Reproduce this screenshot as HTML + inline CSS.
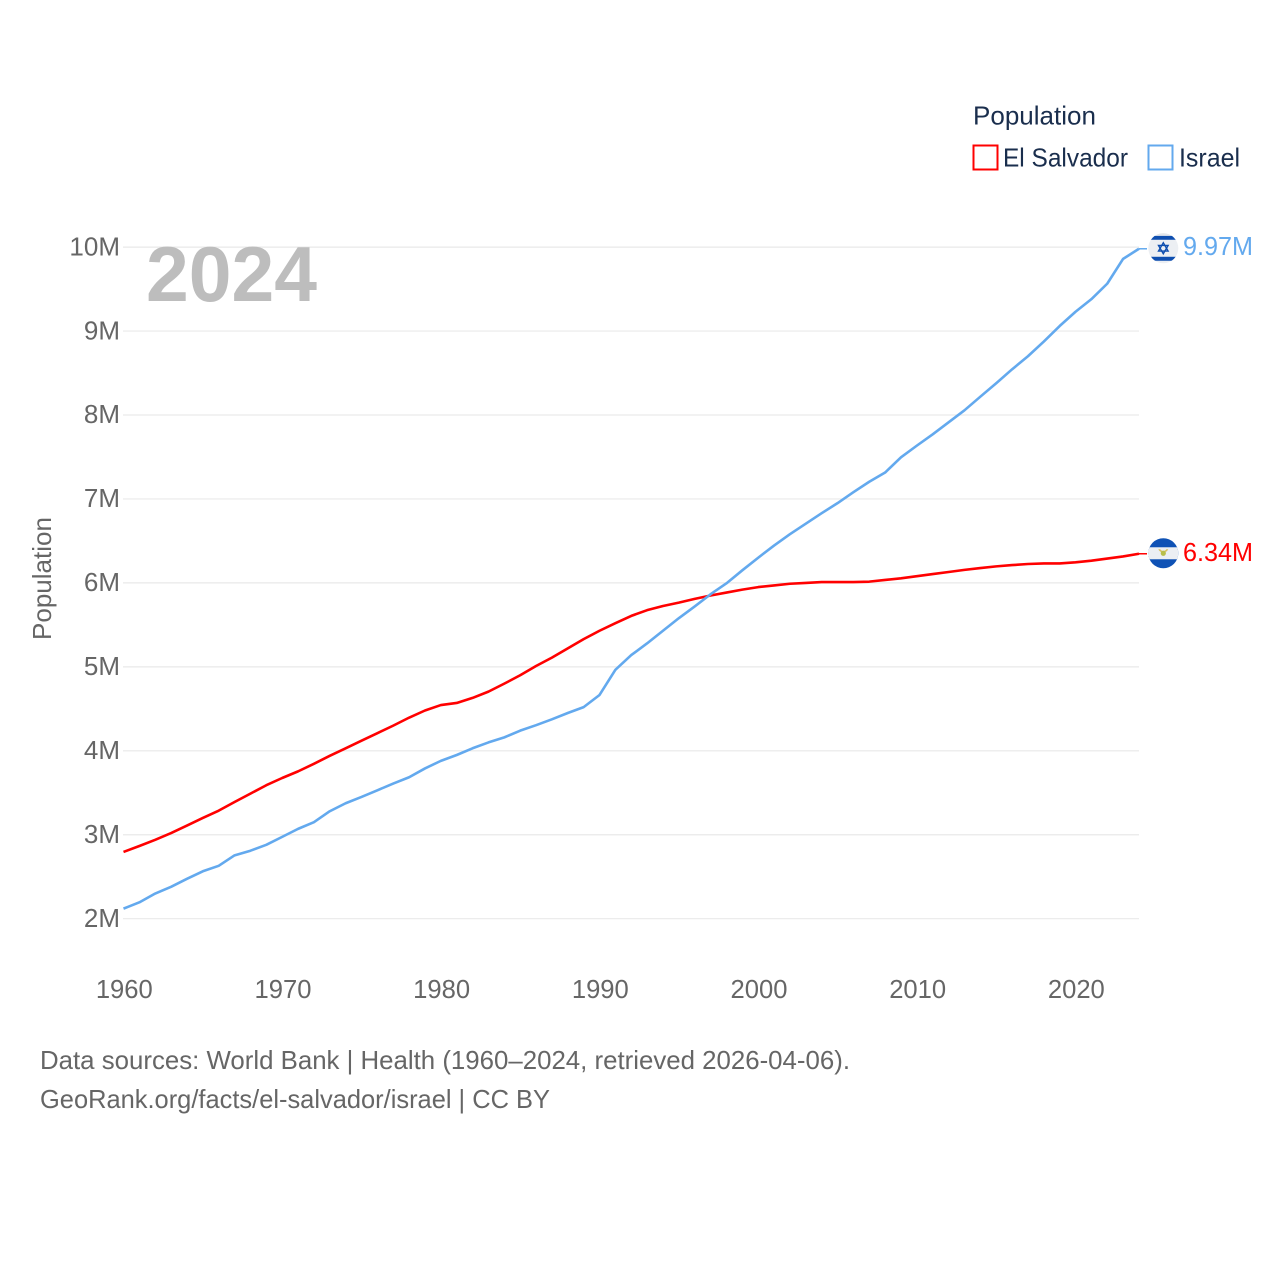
<!DOCTYPE html>
<html lang="en">
<head>
<meta charset="utf-8">
<title>El Salvador and Israel population</title>
<style>
  html, body { margin: 0; padding: 0; background: #fff; }
  svg { display: block; font-family: "Liberation Sans", sans-serif; }
</style>
</head>
<body>
<svg id="chart" width="1280" height="1280" viewBox="0 0 1280 1280" xmlns="http://www.w3.org/2000/svg">
  <rect width="1280" height="1280" fill="#fff"/>
  <defs>
    <clipPath id="flag-clip"><circle cx="0" cy="0" r="15"/></clipPath>
  </defs>
  <g id="grid"></g>
  <g id="yticks"></g>
  <g id="xticks"></g>
  <text x="146" y="301" font-size="78" font-weight="700" fill="#bdbdbd" textLength="171" lengthAdjust="spacingAndGlyphs">2024</text>
  <text transform="translate(51,640) rotate(-90)" font-size="26" fill="#666" textLength="123" lengthAdjust="spacingAndGlyphs">Population</text>

  <g id="series"></g>
  <g id="ends"></g>

  <g>
    <text x="973" y="124.5" font-size="26" fill="#1a2e4d" textLength="123" lengthAdjust="spacingAndGlyphs">Population</text>
    <rect x="973.5" y="145.5" width="24" height="24" fill="none" stroke="#ff0000" stroke-width="2"/>
    <text x="1003" y="166.5" font-size="26" fill="#1a2e4d" textLength="125" lengthAdjust="spacingAndGlyphs">El Salvador</text>
    <rect x="1148.5" y="145.5" width="24" height="24" fill="none" stroke="#63a9ee" stroke-width="2"/>
    <text x="1179" y="166.5" font-size="26" fill="#1a2e4d" textLength="61" lengthAdjust="spacingAndGlyphs">Israel</text>
  </g>

  <g>
    <text x="40" y="1069" font-size="26" fill="#666" textLength="810" lengthAdjust="spacingAndGlyphs">Data sources: World Bank | Health (1960–2024, retrieved 2026-04-06).</text>
    <text x="40" y="1108" font-size="26" fill="#666" textLength="510" lengthAdjust="spacingAndGlyphs">GeoRank.org/facts/el-salvador/israel | CC BY</text>
  </g>
</svg>
<script>
const startYear = 1960;
const elSalvador = [2.795,2.866,2.94,3.02,3.11,3.20,3.287,3.39,3.49,3.59,3.676,3.755,3.845,3.94,4.03,4.12,4.21,4.30,4.395,4.48,4.545,4.57,4.63,4.705,4.80,4.90,5.01,5.11,5.22,5.33,5.43,5.52,5.607,5.675,5.725,5.765,5.81,5.85,5.885,5.92,5.95,5.97,5.99,6.00,6.01,6.01,6.01,6.015,6.035,6.055,6.08,6.105,6.13,6.155,6.177,6.197,6.212,6.225,6.232,6.232,6.245,6.265,6.29,6.315,6.347];
const israel = [2.12,2.195,2.30,2.38,2.475,2.565,2.63,2.755,2.81,2.88,2.975,3.07,3.15,3.28,3.375,3.45,3.53,3.61,3.685,3.79,3.88,3.95,4.03,4.10,4.16,4.24,4.305,4.375,4.45,4.52,4.665,4.965,5.14,5.28,5.43,5.58,5.72,5.865,5.995,6.15,6.30,6.445,6.58,6.705,6.83,6.95,7.08,7.205,7.315,7.496,7.635,7.77,7.913,8.056,8.218,8.378,8.544,8.70,8.875,9.06,9.23,9.38,9.565,9.86,9.98];
const yTickValues = [2,3,4,5,6,7,8,9,10];
const yTickLabels = ["2M","3M","4M","5M","6M","7M","8M","9M","10M"];
const xTickYears = [1960,1970,1980,1990,2000,2010,2020];
const endLabels = ["6.34M","9.97M"];

const NS = "http://www.w3.org/2000/svg";
const xScale = function (year) { return 123.5 + (year - 1960) * (1139 - 123.5) / 64; };
const yScale = function (value) { return 918.7 - (value - 2) * 83.95; };
function mk(tag, parent, attrs, text) {
  const el = document.createElementNS(NS, tag);
  for (const k in attrs) el.setAttribute(k, attrs[k]);
  if (text !== undefined) el.textContent = text;
  parent.appendChild(el);
  return el;
}

const grid = document.getElementById("grid");
const yticks = document.getElementById("yticks");
const xticks = document.getElementById("xticks");
const seriesG = document.getElementById("series");
const ends = document.getElementById("ends");

yTickValues.forEach(function (v, i) {
  const line = mk("line", grid, { x1: 123, x2: 1139, y1: yScale(v), y2: yScale(v), stroke: "#e9e9e9", "stroke-width": 1.2 });
  
  
  const label = mk("text", yticks, { x: 120, y: yScale(v) + 8.2, "text-anchor": "end", "font-size": 26, fill: "#666" }, yTickLabels[i]);
  
  
});

xTickYears.forEach(function (year) {
  const label = mk("text", xticks, { x: xScale(year) + 0.8, y: 998, "text-anchor": "middle", "font-size": 25.6, fill: "#666" }, String(year));
  
  
});

function linePath(values) {
  return values.map(function (v, i) {
    return (i ? "L" : "M") + xScale(startYear + i).toFixed(2) + " " + yScale(v).toFixed(2);
  }).join("");
}

const redLine = mk("path", seriesG, { d: linePath(elSalvador), fill: "none", stroke: "#ff0000", "stroke-width": 2.6, "stroke-linejoin": "round" });


const blueLine = mk("path", seriesG, { d: linePath(israel), fill: "none", stroke: "#63a9ee", "stroke-width": 2.6, "stroke-linejoin": "round" });



function endMarker(values, colour, label, labelOffset, drawFlag) {
  const lastX = xScale(startYear + values.length - 1);
  const lastY = yScale(values[values.length - 1]);
  const conn = mk("line", ends, { x1: lastX, x2: lastX + 8, y1: lastY, y2: lastY, stroke: colour, "stroke-width": 1.5 });
  
  
  const flag = mk("g", ends, { transform: "translate(" + (lastX + 24.3) + "," + (lastY - 0.5) + ")", "clip-path": "url(#flag-clip)" });
  
  
  drawFlag(flag);
  const text = mk("text", ends, { x: lastX + 44, y: lastY + labelOffset, "font-size": 25.6, fill: colour, textLength: 70, lengthAdjust: "spacingAndGlyphs" }, label);
  
  
}

endMarker(elSalvador, "#ff0000", endLabels[0], 7, function (g) {
  mk("rect", g, { x: -16, y: -16, width: 32, height: 32, fill: "#0f52b5" });
  mk("rect", g, { x: -16, y: -6, width: 32, height: 12, fill: "#eceff3" });
  mk("path", g, { d: "M-5 -4 A5.5 5.5 0 0 0 5 -4 L3 -4 A3.5 3.5 0 0 1 -3 -4Z", fill: "#d9c25e" });
  mk("circle", g, { cx: 0, cy: 0, r: 2.6, fill: "#b9bf4a" });
});

endMarker(israel, "#63a9ee", endLabels[1], 6.2, function (g) {
  mk("rect", g, { x: -16, y: -16, width: 32, height: 32, fill: "#eceff3" });
  mk("rect", g, { x: -16, y: -12.5, width: 32, height: 4, fill: "#0f4fb0" });
  mk("rect", g, { x: -16, y: 8.5, width: 32, height: 4, fill: "#0f4fb0" });
  mk("rect", g, { x: -16, y: -16, width: 32, height: 3.5, fill: "#e3e6ea" });
  mk("polygon", g, { points: "0,-5.5 4.8,2.8 -4.8,2.8", fill: "none", stroke: "#0f4fb0", "stroke-width": 1.4 });
  mk("polygon", g, { points: "0,5.5 4.8,-2.8 -4.8,-2.8", fill: "none", stroke: "#0f4fb0", "stroke-width": 1.4 });
});
</script>
</body>
</html>
